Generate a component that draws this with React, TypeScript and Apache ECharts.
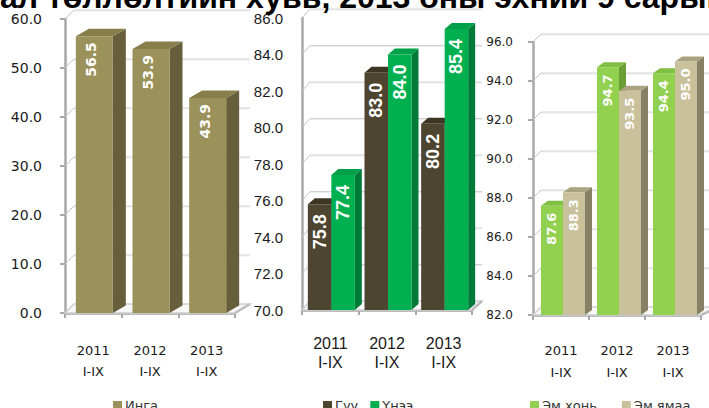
import React, { useEffect, useRef } from "react";
import * as echarts from "echarts";

// ---- data ----
const categories = ["2011\nI-IX", "2012\nI-IX", "2013\nI-IX"];
const ingaValues = [56.5, 53.9, 43.9];
const guuValues = [75.8, 83.0, 80.2];
const uneeValues = [77.4, 84.0, 85.4];
const emKhoniValues = [87.6, 94.7, 94.4];
const emYamaaValues = [88.3, 93.5, 95.0];
const seriesNames1 = ["Инга"];
const seriesNames2 = ["Гүү", "Үнээ"];
const seriesNames3 = ["Эм хонь", "Эм ямаа"];
const axisRange1 = [0, 60, 10];
const axisRange2 = [70, 86, 2];
const axisRange3 = [82, 96, 2];
const titleText = "Мал төллөлтийн хувь, 2013 оны эхний 9 сарын байдлаар";

type Panel = {
  left: number; top: number; width: number; height: number;
  range: number[]; wall: number[]; depth: number[]; barW: number; shift: number;
  labelPad: number; labelDx: number; labelFont: string;
  yFont: string; yFontSize: number; yMargin: number; yTicks: boolean;
  xFont: string; xFontSize: number; xLineHeight: number; xMargin: number;
  wallExtra: number;
  names: string[]; values: number[][];
  colors: { front: string; top: string; side: string }[];
};

const panels: Panel[] = [
  {
    left: 65, top: 19, width: 170, height: 294, range: axisRange1,
    wall: [9, -9], depth: [13, -7.5], barW: 37, shift: 1,
    labelPad: 6, labelDx: -3, labelFont: 'bold 14px "DejaVu Sans"',
    yFont: "DejaVu Sans", yFontSize: 14, yMargin: 23, yTicks: true,
    xFont: "DejaVu Sans", xFontSize: 13, xLineHeight: 21, xMargin: 27,
    wallExtra: 6,
    names: seriesNames1, values: [ingaValues],
    colors: [{ front: "#9b915a", top: "#887e4c", side: "#675f3c" }],
  },
  {
    left: 302, top: 18, width: 170, height: 292, range: axisRange2,
    wall: [8, -9], depth: [7, -6], barW: 23.5, shift: 1,
    labelPad: 10, labelDx: 0, labelFont: 'bold 18px "Liberation Sans"',
    yFont: "Liberation Sans Narrow, Liberation Sans", yFontSize: 15, yMargin: 19, yTicks: false,
    xFont: "Liberation Sans Narrow, Liberation Sans", xFontSize: 16, xLineHeight: 19, xMargin: 24,
    wallExtra: 2,
    names: seriesNames2, values: [guuValues, uneeValues],
    colors: [
      { front: "#4e4530", top: "#3e3625", side: "#362f20" },
      { front: "#00b050", top: "#00a048", side: "#007a38" },
    ],
  },
  {
    left: 533, top: 42, width: 168, height: 273, range: axisRange3,
    wall: [8, -8], depth: [7, -5], barW: 22, shift: 2,
    labelPad: 7, labelDx: -1, labelFont: 'bold 13px "DejaVu Sans"',
    yFont: "DejaVu Sans", yFontSize: 12, yMargin: 20, yTicks: true,
    xFont: "DejaVu Sans", xFontSize: 13, xLineHeight: 22, xMargin: 24,
    wallExtra: 10,
    names: seriesNames3, values: [emKhoniValues, emYamaaValues],
    colors: [
      { front: "#92d050", top: "#7fbf42", side: "#6a9f36" },
      { front: "#c8c19c", top: "#aaa37f", side: "#868064" },
    ],
  },
];

const legendPos = [
  { left: 108, items: seriesNames1, gap: 10 },
  { left: 318, items: seriesNames2, gap: 12 },
  { left: 525, items: seriesNames3, gap: 25 },
];

function tickList(r: number[]) {
  const out: number[][] = [];
  for (let v = r[0]; v <= r[1] + 1e-9; v += r[2]) out.push([0, Math.round(v * 100) / 100]);
  return out;
}

function buildOption() {
  const grid: any[] = [];
  const xAxis: any[] = [];
  const yAxis: any[] = [];
  const series: any[] = [];
  panels.forEach((p, pi) => {
    grid.push({ left: p.left, top: p.top, width: p.width, height: p.height, containLabel: false });
    xAxis.push({
      type: "category", gridIndex: pi, data: categories,
      axisLine: { show: true, lineStyle: { color: "#a8a8a8", width: 2.5 } },
      axisTick: { show: true, length: 5, lineStyle: { color: "#a8a8a8", width: 2 } },
      axisLabel: {
        color: "#1a1a1a", fontFamily: p.xFont, fontSize: p.xFontSize,
        lineHeight: p.xLineHeight, margin: p.xMargin, interval: 0,
      },
      splitLine: { show: false },
    });
    yAxis.push({
      type: "value", gridIndex: pi, min: p.range[0], max: p.range[1], interval: p.range[2],
      axisLine: { show: true, lineStyle: { color: "#a8a8a8", width: 2.5 } },
      axisTick: { show: p.yTicks, length: 5, lineStyle: { color: "#a8a8a8", width: 2 } },
      axisLabel: {
        color: "#1a1a1a", fontFamily: p.yFont, fontSize: p.yFontSize, margin: p.yMargin,
        formatter: (v: number) => v.toFixed(1),
      },
      splitLine: { show: false },
    });
    const min = p.range[0];
    // walls, gridlines and floor
    series.push({
      type: "custom", name: "wall" + pi, xAxisIndex: pi, yAxisIndex: pi, z: 1, clip: false,
      silent: true, data: tickList(p.range),
      renderItem: (params: any, api: any) => {
        const v = api.value(1);
        const cs = params.coordSys;
        const y = api.coord([0, v])[1];
        const [dx, dy] = p.wall;
        const x0 = cs.x, x1 = cs.x + cs.width;
        const children: any[] = [];
        if (v === min) {
          children.push({
            type: "polygon",
            shape: { points: [[x0, y], [x1, y], [x1 + dx + p.wallExtra, y + dy], [x0 + dx, y + dy]] },
            style: { fill: "#f7f7f7", stroke: "#cfcfcf", lineWidth: 1.5 },
          });
          children.push({
            type: "line", shape: { x1: x1, y1: y, x2: x1 + dx + p.wallExtra, y2: y + dy },
            style: { stroke: "#bdbdbd", lineWidth: 2.5 },
          });
        } else {
          children.push({
            type: "line", shape: { x1: x0, y1: y, x2: x0 + dx, y2: y + dy },
            style: { stroke: "#c4c4c4", lineWidth: 1 },
          });
          children.push({
            type: "line", shape: { x1: x0 + dx, y1: y + dy + 1, x2: x1 + dx + p.wallExtra, y2: y + dy + 1 },
            style: { stroke: "#ececec", lineWidth: 1 },
          });
          children.push({
            type: "line", shape: { x1: x0 + dx, y1: y + dy, x2: x1 + dx + p.wallExtra, y2: y + dy },
            style: { stroke: "#d2d2d2", lineWidth: 1 },
          });
        }
        return { type: "group", children };
      },
    });
    const n = p.names.length;
    p.names.forEach((name, si) => {
      const col = p.colors[si];
      series.push({
        type: "custom", name, xAxisIndex: pi, yAxisIndex: pi, z: 2 + si, clip: false,
        itemStyle: { color: col.front },
        data: p.values[si].map((v, ci) => [ci, v]),
        renderItem: (params: any, api: any) => {
          const ci = api.value(0);
          const v = api.value(1);
          const c = api.coord([ci, v]);
          const b = api.coord([ci, min]);
          const w = p.barW;
          const x = c[0] + p.shift - (n * w) / 2 + si * w;
          const yt = c[1];
          const yb = b[1];
          const [dx, dy] = p.depth;
          return {
            type: "group",
            children: [
              {
                type: "polygon",
                shape: { points: [[x + w, yb], [x + w + dx, yb + dy], [x + w + dx, yt + dy], [x + w, yt]] },
                style: { fill: col.side },
              },
              {
                type: "polygon",
                shape: { points: [[x, yt], [x + dx, yt + dy], [x + w + dx, yt + dy], [x + w, yt]] },
                style: { fill: col.top },
              },
              { type: "rect", shape: { x, y: yt, width: w, height: yb - yt }, style: { fill: col.front } },
              {
                type: "text", x: x + w / 2 + p.labelDx, y: yt + p.labelPad, rotation: Math.PI / 2,
                style: {
                  text: v.toFixed(1), fill: "#ffffff", font: p.labelFont,
                  align: "right", verticalAlign: "middle",
                },
              },
            ],
          };
        },
      });
    });
  });

  const legend = legendPos.map((l) => ({
    left: l.left, top: 394, orient: "horizontal", data: l.items,
    icon: "rect", itemWidth: 9, itemHeight: 9, itemGap: l.gap,
    selectedMode: false,
    textStyle: { color: "#333", fontFamily: "DejaVu Sans", fontSize: 13, padding: [0, 0, 0, -2] },
  }));

  return {
    animation: false,
    backgroundColor: "#ffffff",
    grid, xAxis, yAxis, series, legend,
    graphic: [
      {
        type: "text", left: -27, top: -19, z: 100,
        style: { text: titleText, fill: "#000", font: 'bold 32px "Liberation Sans"' },
      },
    ],
  };
}

export default function App() {
  const ref = useRef<HTMLDivElement>(null);
  useEffect(() => {
    if (!ref.current) return;
    const chart = echarts.init(ref.current, undefined, { renderer: "svg" });
    chart.setOption(buildOption() as any);
    return () => chart.dispose();
  }, []);
  return (
    <div
      ref={ref}
      style={{ position: "fixed", left: 0, top: 0, width: 709, height: 408, background: "#fff" }}
    />
  );
}
